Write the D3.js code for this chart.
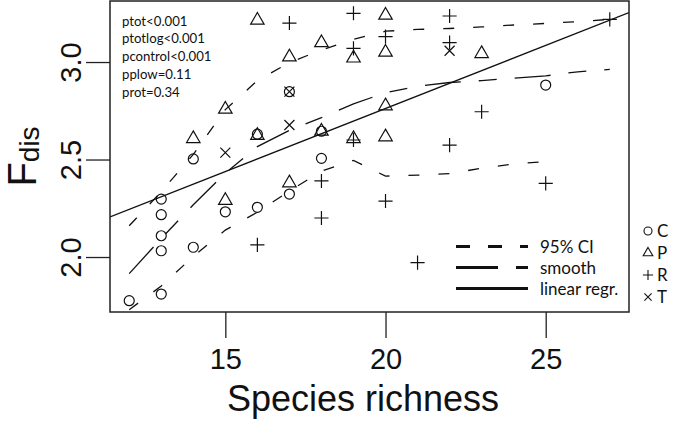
<!DOCTYPE html>
<html><head><meta charset="utf-8">
<script src="https://cdn.jsdelivr.net/npm/d3@7"></script>
<style>body{margin:0;background:#fff;} svg{display:block;}</style>
</head><body><svg id="chart" width="676" height="427"></svg>
<script>
// ---- data ----
const xTicks = [15, 20, 25];
const yTicks = [2.0, 2.5, 3.0];
const cX = [12,13,13,13,13,13,14,14,15,16,16,17,17,18,18,25];
const cY = [1.776,1.81,2.032,2.109,2.217,2.297,2.05,2.503,2.232,2.255,2.63,2.323,2.848,2.645,2.506,2.882];
const pX = [14,15,15,16,16,17,17,18,18,19,19,20,20,20,20,23];
const pY = [2.607,2.29,2.758,2.623,3.214,2.38,3.026,2.645,3.099,2.607,3.02,2.616,2.775,3.05,3.24,3.043];
const rX = [16,17,18,18,19,19,19,20,20,21,22,22,22,23,25,27];
const rY = [2.062,3.20,2.39,2.20,3.25,3.07,2.60,3.13,2.287,1.971,3.236,3.10,2.574,2.745,2.378,3.219];
const tX = [15,17,17,22];
const tY = [2.535,2.848,2.677,3.058];
const smoothX = [12,13,14,15,16,17,18,19,20,21,22,23,24,25,26,27];
const smoothY = [1.915,2.095,2.268,2.43,2.566,2.65,2.715,2.785,2.843,2.876,2.895,2.905,2.917,2.929,2.95,2.962];
const upperX = [12,13,14,15,16,17,18,19,20,21,22,23,24,25,26,27];
const upperY = [2.16,2.335,2.526,2.756,2.905,2.997,3.062,3.116,3.158,3.167,3.172,3.18,3.19,3.198,3.207,3.219];
const lowerX = [12,13,14,15,16,17,18,19,20,21,22,23,24,25];
const lowerY = [1.73,1.851,2.003,2.138,2.23,2.338,2.44,2.495,2.415,2.42,2.428,2.455,2.477,2.49];
const regIntercept = 1.468, regSlope = 0.0647;
const statsText = ["ptot<0.001","ptotlog<0.001","pcontrol<0.001","pplow=0.11","prot=0.34"];
const lineLegend = ["95% CI","smooth","linear regr."];
const groupLabels = ["C","P","R","T"];
const groupShapes = ["circle","tri","plus","cross"];

// ---- layout ----
const L = 110, R = 629, T = 1, B = 312;
const svg = d3.select("#chart");
const x = d3.scaleLinear().domain([11.4, 27.6]).range([L, R]);
const y = d3.scaleLinear().domain([1.718, 3.313]).range([B, T]);

svg.append("defs").append("clipPath").attr("id","clip")
  .append("rect").attr("x",L).attr("y",T).attr("width",R-L).attr("height",B-T);

function symPath(type, cx, cy, s) {
  if (type === "tri") {
    const r = 1.555*s, xc = 1.347*s, yc = 0.7775*s;
    return `M${cx},${cy-r}L${cx+xc},${cy+yc}L${cx-xc},${cy+yc}Z`;
  }
  if (type === "plus") {
    const h = 1.414*s;
    return `M${cx-h},${cy}H${cx+h}M${cx},${cy-h}V${cy+h}`;
  }
  return `M${cx-s},${cy-s}L${cx+s},${cy+s}M${cx-s},${cy+s}L${cx+s},${cy-s}`;
}
function drawSym(g, type, cx, cy, s, sw) {
  if (type === "circle") {
    g.append("circle").attr("cx",cx).attr("cy",cy).attr("r",s)
      .attr("fill","none").attr("stroke","#111").attr("stroke-width",sw);
  } else {
    g.append("path").attr("d",symPath(type,cx,cy,s))
      .attr("fill","none").attr("stroke","#111").attr("stroke-width",sw);
  }
}

// ---- lines ----
const lg = svg.append("g").attr("clip-path","url(#clip)");
const line = d3.line().x(d=>x(d[0])).y(d=>y(d[1]));
lg.append("path").attr("d", line(d3.zip(upperX, upperY)))
  .attr("fill","none").attr("stroke","#111").attr("stroke-width",1.3).attr("stroke-dasharray","11,19");
lg.append("path").attr("d", line(d3.zip(lowerX, lowerY)))
  .attr("fill","none").attr("stroke","#111").attr("stroke-width",1.3).attr("stroke-dasharray","11,19");
lg.append("path").attr("d", line(d3.zip(smoothX, smoothY)))
  .attr("fill","none").attr("stroke","#111").attr("stroke-width",1.3).attr("stroke-dasharray","36,18,18,18");
const xd = x.domain();
lg.append("path").attr("d", line([[xd[0], regIntercept+regSlope*xd[0]],[xd[1], regIntercept+regSlope*xd[1]]]))
  .attr("fill","none").attr("stroke","#111").attr("stroke-width",1.4);

// ---- points ----
const pg = svg.append("g");
const S = 5;
cX.forEach((v,i)=>drawSym(pg,"circle",x(v),y(cY[i]),S,1.2));
pX.forEach((v,i)=>drawSym(pg,"tri",x(v),y(pY[i]),S,1.2));
rX.forEach((v,i)=>drawSym(pg,"plus",x(v),y(rY[i]),S,1.2));
tX.forEach((v,i)=>drawSym(pg,"cross",x(v),y(tY[i]),S,1.2));

// ---- box ----
svg.append("rect").attr("x",L).attr("y",T).attr("width",R-L).attr("height",B-T)
  .attr("fill","none").attr("stroke","#222").attr("stroke-width",1.5);

// ---- axes ----
const axFont = "'Liberation Sans', Arial, sans-serif";
const xa = svg.append("g").attr("transform",`translate(0,${B})`)
  .call(d3.axisBottom(x).tickValues(xTicks).tickSize(26).tickPadding(10).tickFormat(d3.format("d")));
xa.select(".domain").remove();
xa.selectAll("line").attr("stroke","#222").attr("stroke-width",1.3);
xa.selectAll("text").attr("font-family",axFont).attr("font-size",29).attr("fill","#111");

const ya = svg.append("g").attr("transform",`translate(${L},0)`)
  .call(d3.axisLeft(y).tickValues(yTicks).tickSize(24).tickFormat(d3.format(".1f")));
ya.select(".domain").remove();
ya.selectAll("line").attr("stroke","#222").attr("stroke-width",1.3);
ya.selectAll("text").attr("font-family",axFont).attr("font-size",29).attr("fill","#111")
  .attr("x",null).attr("dy",null).attr("text-anchor","middle")
  .attr("transform","translate(-29,0) rotate(-90)");

// axis titles
svg.append("text").attr("x",363).attr("y",411).attr("text-anchor","middle")
  .attr("font-family",axFont).attr("font-size",36).attr("fill","#111").text("Species richness");
const yl = svg.append("text").attr("transform",`translate(36,${(T+B)/2}) rotate(-90)`)
  .attr("text-anchor","middle").attr("font-family",axFont).attr("fill","#111");
yl.append("tspan").attr("font-size",40).text("F");
yl.append("tspan").attr("font-size",28).attr("dy",3).text("dis");

// ---- stats text ----
const txtFont = "Lato, 'Open Sans', sans-serif";
svg.append("g").selectAll("text").data(statsText).join("text")
  .attr("x",122).attr("y",(d,i)=>25.5+i*17.9)
  .attr("font-family",txtFont).attr("font-size",13.2).attr("fill","#111").text(d=>d);

// ---- line legend ----
const lgd = svg.append("g");
const legDash = ["14,18","42,18",null];
lineLegend.forEach((t,i)=>{
  const yy = 246.5 + i*21;
  const l = lgd.append("line").attr("x1",456).attr("x2",528).attr("y1",yy).attr("y2",yy)
    .attr("stroke","#111").attr("stroke-width",3);
  if (legDash[i]) l.attr("stroke-dasharray",legDash[i]);
  lgd.append("text").attr("x",540).attr("y",yy+6).attr("font-family",txtFont)
    .attr("font-size",17).attr("fill","#111").text(t);
});

// ---- group legend ----
const gg = svg.append("g");
groupLabels.forEach((t,i)=>{
  const yy = 231 + i*22;
  drawSym(gg, groupShapes[i], 648, yy, groupShapes[i]==="circle"?4:3.6, 1.1);
  gg.append("text").attr("x",657).attr("y",yy+6).attr("font-family",txtFont)
    .attr("font-size",17).attr("fill","#111").text(t);
});
</script></body></html>
